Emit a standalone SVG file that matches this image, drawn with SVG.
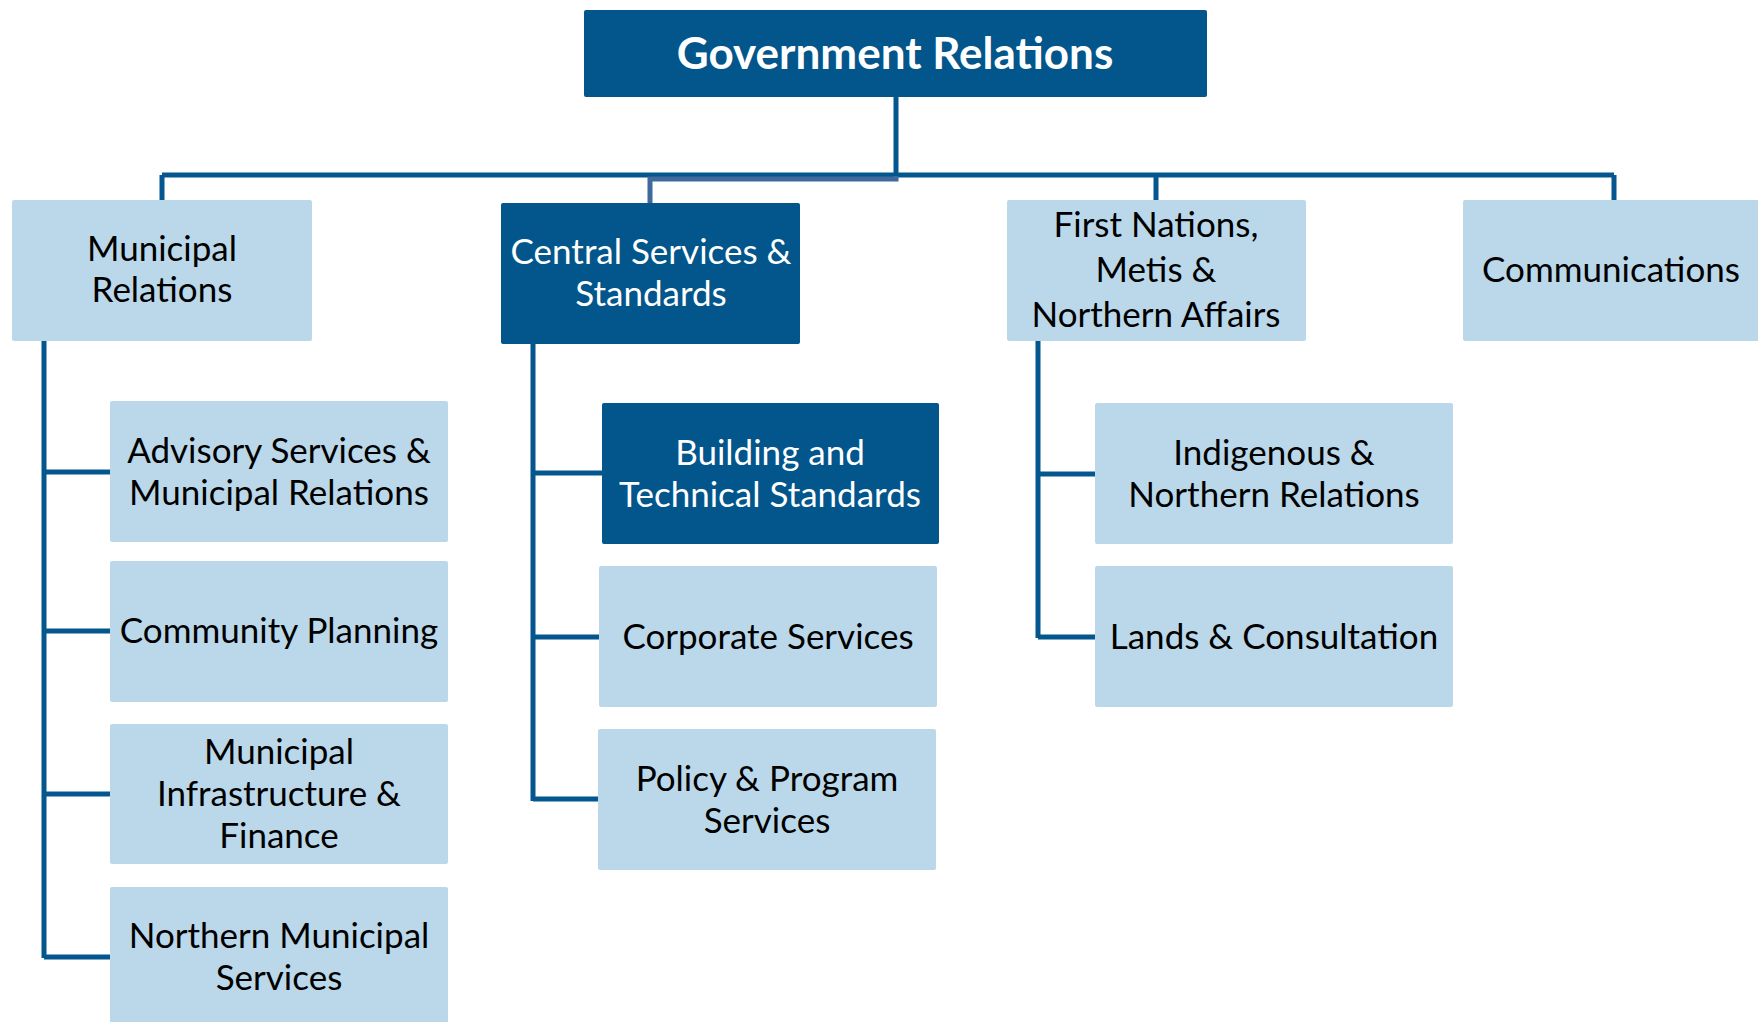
<svg xmlns="http://www.w3.org/2000/svg" width="1758" height="1022" viewBox="0 0 1758 1022">
<style>
.dark{fill:#02568b}
.light{fill:#bad8ea}
.t{font-family:Lato,"Liberation Sans",sans-serif;font-size:35px;text-anchor:middle;dominant-baseline:central;fill:#000}
.w{fill:#fff}
.title{font-family:Lato,"Liberation Sans",sans-serif;font-size:44px;font-weight:bold;text-anchor:middle;dominant-baseline:central;fill:#fff}
.c{fill:none;stroke:#04568f;stroke-width:5}
</style>
<rect width="1758" height="1022" fill="#fff"/>
<g id="connectors">
<path class="c" d="M896 97V175M162 175H1614M162 175V200M1156 175V200M1614 175V200"/>
<path class="c" style="stroke:#3f6a9b" d="M896 176V179H650V203"/>
<path class="c" d="M44 341V958M44 472H110M44 631H110M44 794H110M44 957H110"/>
<path class="c" d="M533 344V801M533 473H602M533 637H599M533 799H598"/>
<path class="c" d="M1038 341V638M1038 474H1095M1038 637H1095"/>
</g>
<g id="gov"><rect class="dark" x="584" y="10" width="623" height="87" rx="2"/><text class="title" x="895" y="52">Government Relations</text></g>
<g id="municipal-relations"><rect class="light" x="12" y="200" width="300" height="141" rx="2"/><text class="t" x="162" y="247">Municipal</text><text class="t" x="162" y="288">Relations</text></g>
<g id="central-services"><rect class="dark" x="501" y="203" width="299" height="141" rx="2"/><text class="t w" x="651" y="250">Central Services &amp;</text><text class="t w" x="651" y="292">Standards</text></g>
<g id="first-nations"><rect class="light" x="1007" y="200" width="299" height="141" rx="2"/><text class="t" x="1156" y="223">First Nations,</text><text class="t" x="1156" y="268">Metis &amp;</text><text class="t" x="1156" y="313">Northern Affairs</text></g>
<g id="communications"><rect class="light" x="1463" y="200" width="300" height="141" rx="2"/><text class="t" x="1611" y="268">Communications</text></g>
<g id="advisory"><rect class="light" x="110" y="401" width="338" height="141" rx="2"/><text class="t" x="279" y="449">Advisory Services &amp;</text><text class="t" x="279" y="491">Municipal Relations</text></g>
<g id="community-planning"><rect class="light" x="110" y="561" width="338" height="141" rx="2"/><text class="t" x="279" y="629">Community Planning</text></g>
<g id="infrastructure"><rect class="light" x="110" y="724" width="338" height="140" rx="2"/><text class="t" x="279" y="750">Municipal</text><text class="t" x="279" y="792">Infrastructure &amp;</text><text class="t" x="279" y="834">Finance</text></g>
<g id="northern-municipal"><rect class="light" x="110" y="887" width="338" height="141" rx="2"/><text class="t" x="279" y="934">Northern Municipal</text><text class="t" x="279" y="976">Services</text></g>
<g id="building"><rect class="dark" x="602" y="403" width="337" height="141" rx="2"/><text class="t w" x="770" y="451">Building and</text><text class="t w" x="770" y="493">Technical Standards</text></g>
<g id="corporate"><rect class="light" x="599" y="566" width="338" height="141" rx="2"/><text class="t" x="768" y="635">Corporate Services</text></g>
<g id="policy"><rect class="light" x="598" y="729" width="338" height="141" rx="2"/><text class="t" x="767" y="777">Policy &amp; Program</text><text class="t" x="767" y="819">Services</text></g>
<g id="indigenous"><rect class="light" x="1095" y="403" width="358" height="141" rx="2"/><text class="t" x="1274" y="451">Indigenous &amp;</text><text class="t" x="1274" y="493">Northern Relations</text></g>
<g id="lands"><rect class="light" x="1095" y="566" width="358" height="141" rx="2"/><text class="t" x="1274" y="635">Lands &amp; Consultation</text></g>
</svg>
